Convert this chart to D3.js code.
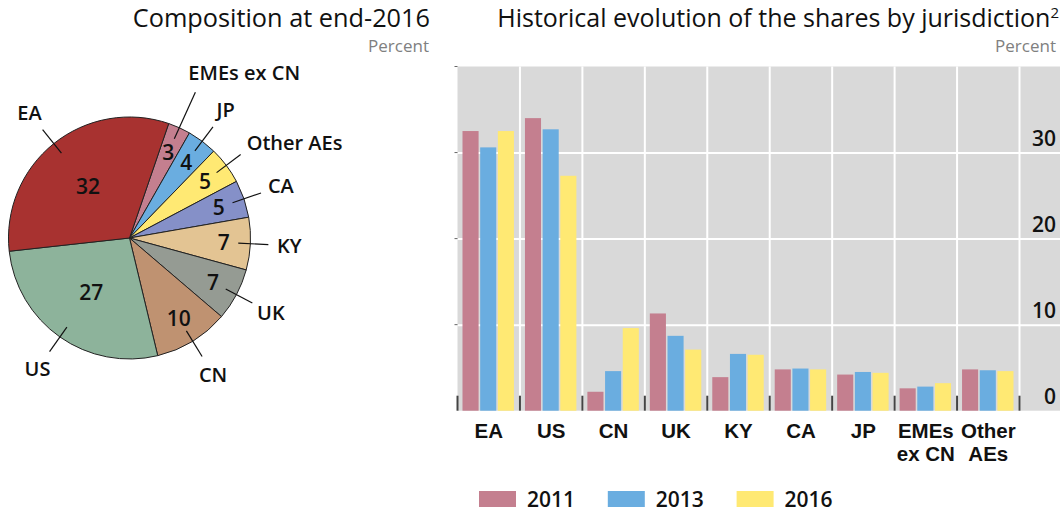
<!DOCTYPE html>
<html>
<head>
<meta charset="utf-8">
<script src="https://cdn.jsdelivr.net/npm/d3@7"></script>
<style>
  body { margin: 0; background: #fff; }
  svg { font-family: "Open Sans", sans-serif; }
</style>
</head>
<body>
<div id="chart"></div>
<script>
// pie: composition at end-2016, clockwise from the top
const pieLabels = ["EMEs ex CN", "JP", "Other AEs", "CA", "KY", "UK", "CN", "US", "EA"]
const pieValues = [3, 4, 5, 5, 7, 7, 10, 27, 32]
const pieColors = ["#c47f8f", "#6aade0", "#ffe973", "#8590c8", "#e3c493", "#959b93", "#bf9271", "#8db39b", "#a83230"]

// bars: historical shares by jurisdiction
const categories = ["EA", "US", "CN", "UK", "KY", "CA", "JP", "EMEs ex CN", "Other AEs"]
const years = ["2011", "2013", "2016"]
const shares2011 = [32.5, 34.0, 2.2, 11.3, 3.9, 4.8, 4.2, 2.6, 4.8]
const shares2013 = [30.6, 32.7, 4.6, 8.7, 6.6, 4.9, 4.5, 2.8, 4.7]
const shares2016 = [32.5, 27.3, 9.6, 7.1, 6.5, 4.8, 4.4, 3.2, 4.6]
const yearColors = ["#c47f8f", "#6aade0", "#ffe973"]
const yTicks = [0, 10, 20, 30]

const W = 1060, H = 513
const svg = d3.select('#chart').append('svg')
    .attr('width', W)
    .attr('height', H)

// ---------- titles ----------
svg.append('text')
    .attr('x', 430).attr('y', 27)
    .attr('text-anchor', 'end')
    .attr('font-size', '25.3px')
    .attr('fill', '#111')
    .text('Composition at end-2016')
svg.append('text')
    .attr('x', 429).attr('y', 52)
    .attr('text-anchor', 'end')
    .attr('font-size', '17px')
    .attr('fill', '#808080')
    .text('Percent')

const t2 = svg.append('text')
    .attr('x', 1059).attr('y', 27)
    .attr('text-anchor', 'end')
    .attr('font-size', '25px')
    .attr('fill', '#111')
t2.append('tspan').text('Historical evolution of the shares by jurisdiction')
t2.append('tspan').attr('font-size', '15px').attr('dy', '-9').text('2')
svg.append('text')
    .attr('x', 1056).attr('y', 52)
    .attr('text-anchor', 'end')
    .attr('font-size', '17px')
    .attr('fill', '#808080')
    .text('Percent')

// ---------- pie ----------
const R = 121
const pieG = svg.append('g').attr('transform', 'translate(129.5,238)')
const start = 0.33
const pie = d3.pie().sort(null).startAngle(start).endAngle(start + 2 * Math.PI)
const slices = pie(pieValues).map((d, i) => ({ ...d, label: pieLabels[i], color: pieColors[i] }))
const arc = d3.arc().innerRadius(0).outerRadius(R)

pieG.selectAll('path.slice')
    .data(slices)
    .join('path')
    .attr('class', 'slice')
    .attr('d', arc)
    .attr('fill', d => d.color)
    .attr('stroke', '#222')
    .attr('stroke-width', 1)

const mid = d => (d.startAngle + d.endAngle) / 2
const polar = (a, r) => [Math.sin(a) * r, -Math.cos(a) * r]

// values inside the slices
pieG.selectAll('text.val')
    .data(slices)
    .join('text')
    .attr('class', 'val')
    .attr('x', d => polar(mid(d), d.value > 20 ? R * 0.55 : R * 0.78)[0])
    .attr('y', d => polar(mid(d), d.value > 20 ? R * 0.55 : R * 0.78)[1])
    .attr('dy', '0.36em')
    .attr('text-anchor', 'middle')
    .attr('font-size', '21px')
    .attr('font-weight', 600)
    .attr('fill', '#111')
    .text(d => d.value)

// leader lines
const outerR = d => d.label === 'EMEs ex CN' ? 160 : 139
pieG.selectAll('line.lead')
    .data(slices)
    .join('line')
    .attr('class', 'lead')
    .attr('x1', d => polar(mid(d), R * 0.9)[0])
    .attr('y1', d => polar(mid(d), R * 0.9)[1])
    .attr('x2', d => polar(mid(d), outerR(d))[0])
    .attr('y2', d => polar(mid(d), outerR(d))[1])
    .attr('stroke', '#111')
    .attr('stroke-width', 1.2)

// outside names
pieG.selectAll('text.name')
    .data(slices)
    .join('text')
    .attr('class', 'name')
    .each(function (d) {
        const t = d3.select(this)
        let p = polar(mid(d), 160), anchor = 'middle'
        if (d.label === 'Other AEs') {
            const e = polar(mid(d), outerR(d))
            p = [e[0] + 6, e[1] - 12]; anchor = 'start'
        } else if (d.label === 'EMEs ex CN') {
            const e = polar(mid(d), outerR(d))
            p = [e[0] - 7, e[1] - 19]; anchor = 'start'
        }
        t.attr('x', p[0]).attr('y', p[1]).attr('text-anchor', anchor)
    })
    .attr('dy', '0.36em')
    .attr('font-size', '20px')
    .attr('font-weight', 600)
    .attr('fill', '#111')
    .text(d => d.label)

// ---------- bars ----------
const plotL = 457.5, plotR = W, plotT = 66.5, zero = 410.7
const bandRight = 1019.5
const x = d3.scaleBand().domain(categories).range([plotL, bandRight]).padding(0)
const y = d3.scaleLinear().domain([0, 40]).range([zero, plotT])
const xSub = d3.scaleBand().domain(years).range([5, x.bandwidth() - 6]).paddingInner(0.09)

const barG = svg.append('g')
barG.append('rect')
    .attr('x', plotL).attr('y', plotT)
    .attr('width', plotR - plotL).attr('height', zero - plotT)
    .attr('fill', '#d9d9d9')

// horizontal grid
barG.append('g')
    .attr('transform', `translate(${plotL},0)`)
    .call(d3.axisRight(y).tickValues(yTicks.filter(v => v > 0)).tickSize(plotR - plotL).tickFormat(''))
    .call(g => g.select('.domain').remove())
    .call(g => g.selectAll('line').attr('stroke', '#fff').attr('stroke-width', 2))

// vertical grid at band edges
const edges = categories.map(c => x(c)).concat([bandRight]).slice(1)
barG.selectAll('line.vgrid')
    .data(edges)
    .join('line')
    .attr('class', 'vgrid')
    .attr('x1', d => d).attr('x2', d => d)
    .attr('y1', plotT).attr('y2', zero)
    .attr('stroke', '#fff')
    .attr('stroke-width', 2)

// small marks on the left edge
barG.selectAll('line.lt')
    .data(yTicks.filter(v => v > 0).concat([40]))
    .join('line')
    .attr('class', 'lt')
    .attr('x1', plotL - 3).attr('x2', plotL)
    .attr('y1', d => y(d)).attr('y2', d => y(d))
    .attr('stroke', '#666')

const seriesVals = [shares2011, shares2013, shares2016]
const groups = barG.selectAll('g.cat')
    .data(categories)
    .join('g')
    .attr('class', 'cat')
    .attr('transform', c => `translate(${x(c)},0)`)

groups.selectAll('rect')
    .data((c, i) => years.map((yr, j) => ({ yr, v: seriesVals[j][i], color: yearColors[j] })))
    .join('rect')
    .attr('x', d => xSub(d.yr))
    .attr('width', xSub.bandwidth())
    .attr('y', d => y(d.v))
    .attr('height', d => zero - y(d.v))
    .attr('fill', d => d.color)

// dark ticks on the zero line
barG.selectAll('line.bt')
    .data([plotL].concat(edges))
    .join('line')
    .attr('class', 'bt')
    .attr('x1', d => d).attr('x2', d => d)
    .attr('y1', zero - 15).attr('y2', zero)
    .attr('stroke', '#444')
    .attr('stroke-width', 2)

// y labels on the right
barG.selectAll('text.yl')
    .data(yTicks)
    .join('text')
    .attr('class', 'yl')
    .attr('x', 1056)
    .attr('y', d => y(d) - 7)
    .attr('text-anchor', 'end')
    .attr('font-size', '21px')
    .attr('font-weight', 600)
    .attr('fill', '#111')
    .text(d => d)

// category labels
const wrap = s => s.length > 6 ? [s.slice(0, s.indexOf(' ')), s.slice(s.indexOf(' ') + 1)] : [s]
const xl = svg.append('g')
    .attr('transform', `translate(0,${zero})`)
    .call(d3.axisBottom(x).tickSize(0).tickFormat(''))
xl.select('.domain').remove()
xl.selectAll('.tick').each(function (c) {
    const t = d3.select(this).append('text')
        .attr('y', 27.5)
        .attr('text-anchor', 'middle')
        .attr('font-size', '20.5px')
        .attr('font-weight', 600)
        .attr('fill', '#111')
    wrap(c).forEach((line, k) => {
        t.append('tspan').attr('x', 0).attr('dy', k === 0 ? 0 : 23).text(line)
    })
})

// legend
const leg = svg.append('g').attr('transform', 'translate(479,491)')
years.forEach((yr, j) => {
    const g = leg.append('g').attr('transform', `translate(${j * 128.8},0)`)
    g.append('rect')
        .attr('width', 37).attr('height', 16)
        .attr('fill', yearColors[j])
    g.append('text')
        .attr('x', 48).attr('y', 16)
        .attr('font-size', '21px')
        .attr('font-weight', 600)
        .attr('fill', '#111')
        .text(yr)
})
</script>
</body>
</html>
